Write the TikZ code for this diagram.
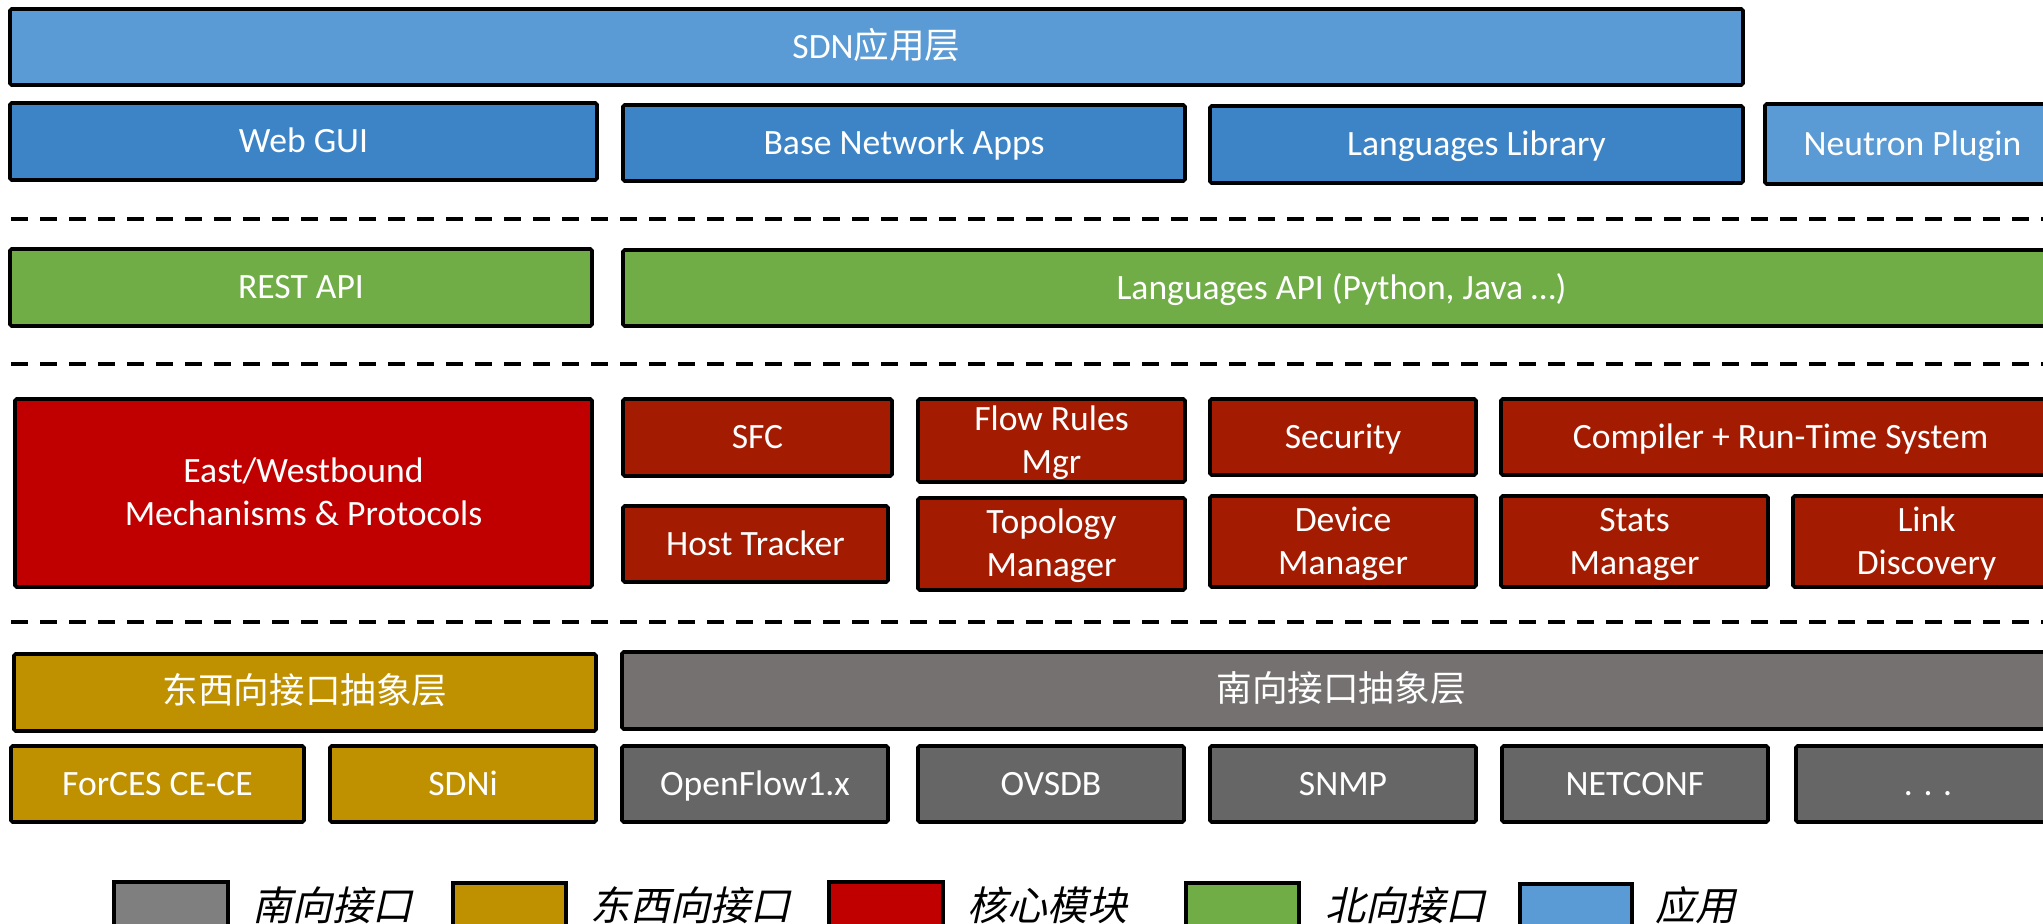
\documentclass[tikz,border=0pt]{standalone}
\usepackage{fontspec}
\setmainfont{Carlito}
\newfontfamily\cjk{Noto Sans CJK SC}
\newfontfamily\cjkit[FakeSlant=0.22]{Noto Sans CJK SC}

\definecolor{appLight}{HTML}{5B9BD5}
\definecolor{appDark}{HTML}{3D84C6}
\definecolor{nbGreen}{HTML}{70AD47}
\definecolor{coreMain}{HTML}{C00000}
\definecolor{coreMod}{HTML}{A31B00}
\definecolor{ewGold}{HTML}{BF9000}
\definecolor{sbLayer}{HTML}{767171}
\definecolor{sbGray}{HTML}{666666}
\definecolor{legGray}{HTML}{7F7F7F}

% block: name, style, x1, y1, x2, y2, text  (pixel grid, y downward)
\newcommand\blk[7]{%
  \node[#2, minimum width={(#5-#3)*0.5pt}, minimum height={(#6-#4)*0.5pt}]
    (#1) at ({(#3+#5)/2},{(#4+#6)/2}) {#7};}

\begin{document}
\begin{tikzpicture}[x=0.5pt, y=-0.5pt,
  box/.style={draw=black, line width=1.8pt, rounded corners=0.8pt, text=white,
    inner sep=0pt, outer sep=0pt, align=center,
    font=\fontsize{17.8}{21.5}\selectfont, text height=11.4pt, text depth=0pt},
  twoline/.style={text height=32.9pt},
  appS/.style={box, fill=appLight},
  appD/.style={box, fill=appDark},
  nb/.style={box, fill=nbGreen},
  coreM/.style={box, fill=coreMain},
  core/.style={box, fill=coreMod},
  ew/.style={box, fill=ewGold},
  sbL/.style={box, fill=sbLayer},
  sb/.style={box, fill=sbGray},
  legbox/.style={draw=black, line width=2pt, inner sep=0pt},
  legtext/.style={anchor=base west, inner sep=0pt,
    font=\cjkit\fontsize{20}{24}\selectfont},
  sep/.style={line width=2pt, dash pattern=on 8.3pt off 6.2pt}]

\useasboundingbox (0,0) rectangle (2043,923);
\clip (0,0) rectangle (2043,923);

% application layer
\blk{app}{appS}{10}{9}{1743}{85}{SDN{\cjk 应用层}}
\blk{webgui}{appD}{10}{103}{597}{180}{Web GUI}
\blk{basenet}{appD}{623}{105}{1185}{181}{Base Network Apps}
\blk{langlib}{appD}{1210}{106}{1743}{183}{Languages Library}
\blk{neutron}{appS}{1765}{104}{2060}{184}{Neutron Plugin}

\coordinate (s1a) at (11,219); \coordinate (s1b) at (2060,219);
\draw[sep] (s1a) -- (s1b);

% northbound interfaces
\blk{rest}{nb}{10}{249}{592}{326}{REST API}
\blk{langapi}{nb}{623}{250}{2060}{326}{Languages API (Python, Java …)}

\coordinate (s2a) at (11,364); \coordinate (s2b) at (2060,364);
\draw[sep] (s2a) -- (s2b);

% core modules
\blk{ewmech}{coreM,twoline}{15}{399}{592}{587}{East/Westbound\\Mechanisms \& Protocols}
\blk{sfc}{core}{623}{399}{892}{476}{SFC}
\blk{flow}{core,twoline}{918}{399}{1185}{482}{Flow Rules\\Mgr}
\blk{security}{core}{1210}{399}{1476}{475}{Security}
\blk{compiler}{core}{1501}{399}{2060}{475}{Compiler + Run-Time System}
\blk{host}{core}{623}{506}{888}{582}{Host Tracker}
\blk{topo}{core,twoline}{918}{498}{1185}{590}{Topology\\Manager}
\blk{device}{core,twoline}{1210}{496}{1476}{587}{Device\\Manager}
\blk{stats}{core,twoline}{1501}{496}{1768}{587}{Stats\\Manager}
\blk{link}{core,twoline}{1793}{496}{2060}{587}{Link\\Discovery}

\coordinate (s3a) at (11,622); \coordinate (s3b) at (2060,622);
\draw[sep] (s3a) -- (s3b);

% east/west and southbound interfaces
\blk{ewlayer}{ew}{14}{654}{596}{731}{\cjk 东西向接口抽象层}
\blk{sblayer}{sbL}{622}{652}{2060}{729}{\cjk 南向接口抽象层}
\blk{forces}{ew}{11}{746}{304}{822}{ForCES CE-CE}
\blk{sdni}{ew}{330}{746}{596}{822}{SDNi}
\blk{openflow}{sb}{622}{746}{888}{822}{OpenFlow1.x}
\blk{ovsdb}{sb}{918}{746}{1184}{822}{OVSDB}
\blk{snmp}{sb}{1210}{746}{1476}{822}{SNMP}
\blk{netconf}{sb}{1502}{746}{1768}{822}{NETCONF}
\blk{more}{sb}{1796}{746}{2060}{822}{. . .}

% legend
\blk{lg1}{legbox, fill=legGray}{114}{882}{228}{960}{}
\node[legtext] (lt1) at (252,920) {南向接口};
\blk{lg2}{legbox, fill=ewGold}{453}{883}{566}{960}{}
\node[legtext] (lt2) at (590,920) {东西向接口};
\blk{lg3}{legbox, fill=coreMain}{829}{882}{943}{960}{}
\node[legtext] (lt3) at (967,920) {核心模块};
\blk{lg4}{legbox, fill=nbGreen}{1186}{883}{1299}{960}{}
\node[legtext] (lt4) at (1325,920) {北向接口};
\blk{lg5}{legbox, fill=appLight}{1520}{884}{1632}{960}{}
\node[legtext] (lt5) at (1655,920) {应用};
\end{tikzpicture}
\end{document}
